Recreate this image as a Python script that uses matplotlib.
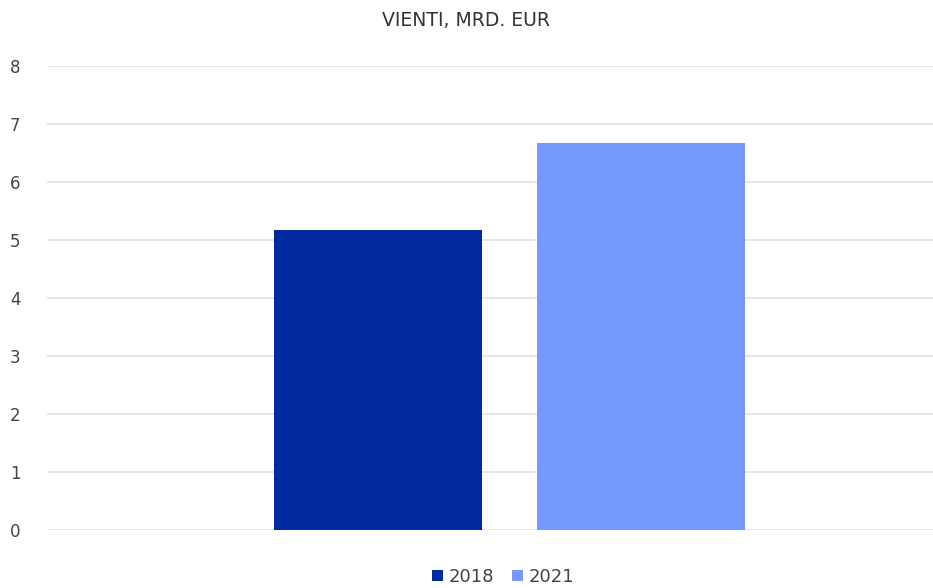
import matplotlib.pyplot as plt
import numpy as np

years = ['2018', '2021']
values = [5.17, 6.68]
colors = ['#0029a0', '#7599ff']
title = 'VIENTI, MRD. EUR'

fig = plt.figure(figsize=(9.33, 5.88), dpi=100)
ax = fig.add_axes([47 / 933, 1 - 530 / 588, 886 / 933, 464 / 588])

offsets = [-0.1487, 0.1487]
for yr, v, c, off in zip(years, values, colors, offsets):
    ax.bar(off, v, width=0.235, color=c, label=yr, zorder=3)

ax.set_xlim(-0.522, 0.478)
ax.set_ylim(0, 8)
ax.set_yticks(np.arange(0, 9, 1))
ax.set_xticks([])
ax.grid(axis='y', color='#e3e3e3', linewidth=1.2, zorder=0)
for s in ax.spines.values():
    s.set_visible(False)
ax.tick_params(axis='y', length=0, pad=19, labelsize=12, labelcolor='#444444')

fig.text(0.5, 1 - 21 / 588, title, ha='center', va='center', fontsize=13.5, color='#333333')
fig.legend(loc='center', bbox_to_anchor=(503 / 933, 1 - 577 / 588), ncol=2, frameon=False,
           fontsize=13, handlelength=0.6, handleheight=0.6, handletextpad=0.3,
           columnspacing=1.0, labelcolor='#444444')

fig.savefig('out.png', dpi=100)
